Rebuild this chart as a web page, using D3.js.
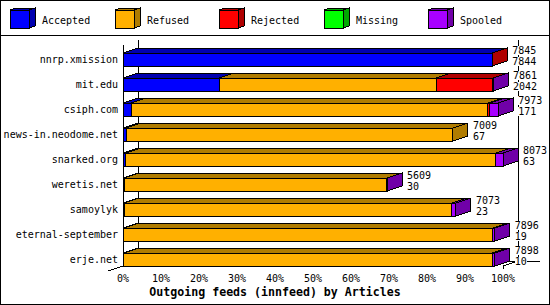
<!DOCTYPE html>
<html>
<head>
<meta charset="utf-8">
<script src="https://cdn.jsdelivr.net/npm/d3@7"></script>
<style>
  body { margin: 0; background: #fff; }
  svg { display: block; font-family: "DejaVu Sans Mono", "Liberation Mono", monospace; }
</style>
</head>
<body>
<div id="chart"></div>
<script>
const categories = ["nnrp.xmission", "mit.edu", "csiph.com", "news-in.neodome.net", "snarked.org",
    "weretis.net", "samoylyk", "eternal-september", "erje.net"];
const accepted = [7844, 2042, 171, 67, 63, 30, 23, 19, 10];
const refused = [0, 4608, 7583, 6942, 7860, 5578, 6965, 7835, 7830];
const rejected = [1, 1210, 42, 0, 0, 0, 0, 0, 0];
const missing = [0, 0, 0, 0, 0, 0, 0, 0, 0];
const spooled = [0, 1, 177, 0, 150, 1, 85, 42, 58];
const totals = [7845, 7861, 7973, 7009, 8073, 5609, 7073, 7896, 7898];

const seriesNames = ["Accepted", "Refused", "Rejected", "Missing", "Spooled"];
const seriesColors = ["#0000ff", "#ffb000", "#ff0000", "#00ff00", "#a800ff"];
const seriesDark = ["#0000b0", "#b07c00", "#b00000", "#00a800", "#7000a8"];
const pctTicks = [0, 0.1, 0.2, 0.3, 0.4, 0.5, 0.6, 0.7, 0.8, 0.9, 1];
const title = "Outgoing feeds (innfeed) by Articles";

const width = 550, height = 305;
const dx = 15, dy = 5;      // 3d depth
const barH = 13, barOff = 9;

const seriesValues = [accepted, refused, rejected, missing, spooled];
const rows = categories.map((c, i) => {
    const r = { name: c, total: totals[i] };
    seriesNames.forEach((s, k) => r[s] = seriesValues[k][i]);
    return r;
});
const stacked = d3.stack().keys(seriesNames)(rows);

const svg = d3.select("#chart").append("svg")
    .attr("width", width)
    .attr("height", height)
    .attr("shape-rendering", "crispEdges");

svg.append("rect")
    .attr("x", 0.5).attr("y", 0.5)
    .attr("width", width - 1).attr("height", height - 1)
    .attr("fill", "#fff").attr("stroke", "#000");
svg.append("line")
    .attr("x1", 0).attr("x2", width)
    .attr("y1", 35.5).attr("y2", 35.5)
    .attr("stroke", "#000");

// legend
const lx = d3.scaleLinear().domain([0, seriesNames.length - 1]).range([10, 428]);
const leg = svg.append("g").selectAll("g")
    .data(seriesNames)
    .join("g")
    .attr("transform", (d, i) => `translate(${Math.round(lx(i))},10)`);
leg.append("polygon")
    .attr("points", "0,0 19,0 25,-2 6,-2")
    .attr("fill", (d, i) => seriesDark[i]).attr("stroke", "#000");
leg.append("polygon")
    .attr("points", "19,0 25,-2 25,16 19,18")
    .attr("fill", (d, i) => seriesDark[i]).attr("stroke", "#000");
leg.append("rect")
    .attr("width", 19).attr("height", 18)
    .attr("fill", (d, i) => seriesColors[i]).attr("stroke", "#000");
leg.append("text")
    .attr("x", 32).attr("y", 14)
    .attr("font-size", 10)
    .text(d => d);

const x = d3.scaleLinear().domain([0, d3.max(totals)]).range([123, 503]);
const pct = d3.scaleLinear().domain([0, 1]).range(x.range());
const y = d3.scaleBand().domain(categories).range([44, 269]);

const top0 = y(categories[0]) + barOff - dy - 8;
const floorFront = y(categories[categories.length - 1]) + barOff + barH;
const floorBack = floorFront - dy;

const axes = svg.append("g").attr("stroke", "#000").attr("fill", "none");
// back wall / floor lines
axes.append("line")
    .attr("x1", x(0) + dx + 0.5).attr("x2", x(0) + dx + 0.5)
    .attr("y1", top0).attr("y2", floorBack);
axes.append("line")
    .attr("x1", x(0) + 0.5).attr("x2", x(0) + 0.5)
    .attr("y1", top0 + dy).attr("y2", floorFront);
axes.append("line")
    .attr("x1", pct(1) + dx + 0.5).attr("x2", pct(1) + dx + 0.5)
    .attr("y1", top0).attr("y2", floorBack);
axes.append("line")
    .attr("x1", x(0) + dx).attr("x2", pct(1) + dx + 22)
    .attr("y1", floorBack + 0.5).attr("y2", floorBack + 0.5);
axes.append("path")
    .attr("d", d3.line()([[x(0) + dx, floorBack], [x(0) - dx, floorFront + dy]]));
axes.append("path")
    .attr("d", d3.line()([[pct(1) + dx, floorBack], [pct(1), floorFront]]));
axes.append("line")
    .attr("x1", pct(1) + 0.5).attr("x2", pct(1) + 0.5)
    .attr("y1", floorFront).attr("y2", floorFront + 3);

// bars
const bars = svg.append("g");
rows.forEach((r, i) => {
    const t = y(r.name) + barOff;
    const segs = stacked
        .map((layer, k) => ({ k, x0: x(layer[i][0]), x1: x(layer[i][1]), v: r[seriesNames[k]] }))
        .filter(s => s.v > 0);
    const g = bars.append("g").attr("stroke", "#000");
    g.selectAll(".top")
        .data(segs)
        .join("polygon")
        .attr("points", s => [[s.x0, t], [s.x1, t], [s.x1 + dx, t - dy], [s.x0 + dx, t - dy]].join(" "))
        .attr("fill", s => seriesDark[s.k]);
    g.selectAll(".front")
        .data(segs)
        .join("rect")
        .attr("x", s => s.x0).attr("y", t)
        .attr("width", s => Math.max(0, s.x1 - s.x0)).attr("height", barH)
        .attr("fill", s => seriesColors[s.k]);
    const last = segs[segs.length - 1];
    g.append("polygon")
        .attr("points", [[last.x1, t], [last.x1 + dx, t - dy], [last.x1 + dx, t - dy + barH], [last.x1, t + barH]].join(" "))
        .attr("fill", seriesDark[last.k]);

    // value labels: total, accepted
    const lab = svg.append("g").attr("font-size", 10);
    [[r.total, t + 1], [r.Accepted, t + 12]].forEach(([v, by]) => {
        const s = String(v);
        lab.append("rect")
            .attr("x", x(r.total) + 20).attr("y", by - 8)
            .attr("width", s.length * 6).attr("height", 9)
            .attr("fill", "#fff");
        lab.append("text")
            .attr("x", x(r.total) + 20).attr("y", by)
            .text(s);
    });
});

// category labels
svg.append("g")
    .attr("font-size", 10)
    .attr("text-anchor", "end")
    .selectAll("text")
    .data(categories)
    .join("text")
    .attr("x", x(0) - 5)
    .attr("y", d => y(d) + barOff + 10)
    .text(d => d);

// tick labels
svg.append("g")
    .attr("font-size", 10)
    .attr("text-anchor", "middle")
    .selectAll("text")
    .data(pctTicks)
    .join("text")
    .attr("x", d => pct(d))
    .attr("y", floorFront + 16)
    .text(d3.format(".0%"));

svg.append("text")
    .attr("x", width / 2)
    .attr("y", 296)
    .attr("text-anchor", "middle")
    .attr("font-size", 11.6)
    .attr("font-weight", "bold")
    .text(title);
</script>
</body>
</html>
